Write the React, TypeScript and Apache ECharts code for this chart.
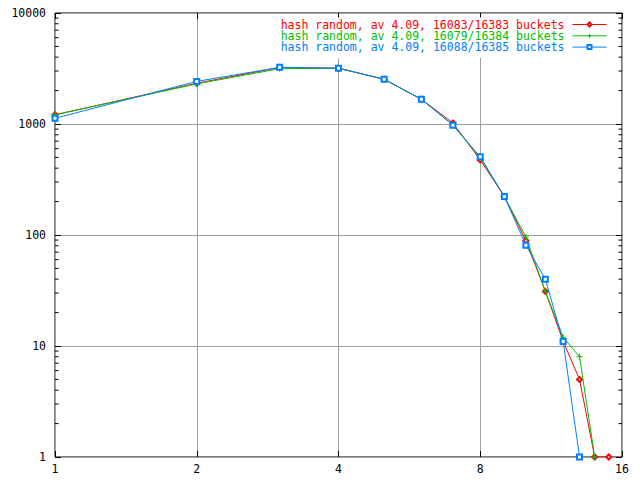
import React, { useEffect, useRef } from "react";
import * as echarts from "echarts";

const xRed = [1, 2, 3, 4, 5, 6, 7, 8, 9, 10, 11, 12, 13, 14, 15];
const yRed = [1210, 2330, 3230, 3180, 2530, 1670, 1020, 475, 222, 89, 31, 11, 5, 1, 1];
const xGreen = [1, 2, 3, 4, 5, 6, 7, 8, 9, 10, 11, 12, 13, 14];
const yGreen = [1210, 2300, 3150, 3180, 2530, 1670, 980, 495, 222, 96, 31, 12, 8, 1];
const xBlue = [1, 2, 3, 4, 5, 6, 7, 8, 9, 10, 11, 12, 13];
const yBlue = [1125, 2420, 3240, 3180, 2530, 1670, 975, 507, 222, 81, 40, 11, 1];

const names = [
  "hash random, av 4.09, 16083/16383 buckets",
  "hash random, av 4.09, 16079/16384 buckets",
  "hash random, av 4.09, 16088/16385 buckets",
];
const colors = ["#ff0000", "#00c000", "#0080ff"];
const yMinorBases = [2, 3, 4, 5, 6, 7, 8, 9];
const yDecades = [1, 10, 100, 1000];

const FONT = "DejaVu Sans Mono";

const zip = (xs: number[], ys: number[]) => xs.map((x, i) => [x, ys[i]]);

export default function App() {
  const ref = useRef<HTMLDivElement>(null);
  useEffect(() => {
    if (!ref.current) return;
    const chart = echarts.init(ref.current, undefined, { renderer: "svg" });
    const fmt = (v: number) => String(Math.round(v));
    const baseX = {
      type: "log" as const,
      logBase: 2,
      min: 1,
      max: 16,
      splitNumber: 4,
      axisLine: { show: false },
      axisTick: { show: true, inside: true, length: 6, lineStyle: { color: "#000" } },
    };
    const baseY = {
      type: "log" as const,
      logBase: 10,
      min: 1,
      max: 10000,
      splitNumber: 4,
      axisLine: { show: false },
      axisTick: { show: true, inside: true, length: 6, lineStyle: { color: "#000" } },
    };
    const seriesSyms = ["emptyDiamond", "path://M5,0L5,10M0,5L10,5", "emptyRect"];
    const seriesData = [zip(xRed, yRed), zip(xGreen, yGreen), zip(xBlue, yBlue)];
    const itemStyleFor = (i: number) =>
      i === 1
        ? { color: "transparent", borderColor: colors[i], borderWidth: 1 }
        : { color: colors[i], borderWidth: 1 };
    chart.setOption({
      animation: false,
      backgroundColor: "#fff",
      grid: {
        left: 55,
        right: 18,
        top: 13,
        bottom: 23,
        show: true,
        borderColor: "#000",
        borderWidth: 1,
        backgroundColor: "transparent",
      },
      legend: {
        orient: "vertical",
        align: "right",
        right: 25,
        top: 17.5,
        itemWidth: 34,
        itemHeight: 5,
        itemGap: -0.7,
        padding: [1, 8, 5, 8],
        backgroundColor: "#fff",
        data: names.map((n, i) => ({
          name: n,
          textStyle: { color: colors[i] },
          lineStyle: { width: 1, color: colors[i] },
          itemStyle: itemStyleFor(i),
        })),
        textStyle: { fontFamily: FONT, fontSize: 11.5, lineHeight: 11, padding: [0, 3, 0, 0] },
      },
      xAxis: [
        {
          ...baseX,
          position: "bottom",
          axisLabel: { formatter: fmt, color: "#000", fontFamily: FONT, fontSize: 11.5, margin: 6 },
          splitLine: { show: true, lineStyle: { color: "#a0a0a0", width: 1 } },
        },
        {
          ...baseX,
          position: "top",
          axisLabel: { show: false },
          splitLine: { show: false },
        },
      ],
      yAxis: [
        {
          ...baseY,
          position: "left",
          axisLabel: { formatter: fmt, color: "#000", fontFamily: FONT, fontSize: 11.5, margin: 9 },
          splitLine: { show: true, lineStyle: { color: "#a0a0a0", width: 1 } },
        },
        {
          ...baseY,
          position: "right",
          axisLabel: { show: false },
          splitLine: { show: false },
        },
      ],
      series: names.map((n, i) => ({
        name: n,
        type: "line",
        xAxisIndex: 0,
        yAxisIndex: 0,
        data: seriesData[i],
        symbol: seriesSyms[i],
        symbolSize: i === 1 ? 6 : 5,
        showAllSymbol: true,
        lineStyle: { color: colors[i], width: 1 },
        itemStyle: itemStyleFor(i),
        z: 3 + i,
      })),
    });

    const xl = chart.convertToPixel({ xAxisIndex: 0 }, 1) as number;
    const xr = chart.convertToPixel({ xAxisIndex: 0 }, 16) as number;
    const g: any[] = [];
    yDecades.forEach((d) => {
      yMinorBases.forEach((b) => {
        const y = chart.convertToPixel({ yAxisIndex: 0 }, b * d) as number;
        g.push({
          type: "line",
          shape: { x1: xl, y1: y, x2: xl + 3.5, y2: y },
          style: { stroke: "#000", lineWidth: 1 },
          silent: true,
        });
        g.push({
          type: "line",
          shape: { x1: xr - 3.5, y1: y, x2: xr, y2: y },
          style: { stroke: "#000", lineWidth: 1 },
          silent: true,
        });
      });
    });
    chart.setOption({ graphic: g });
    return () => chart.dispose();
  }, []);
  return (
    <div
      ref={ref}
      style={{ position: "fixed", left: 0, top: 0, width: 640, height: 480 }}
    />
  );
}
